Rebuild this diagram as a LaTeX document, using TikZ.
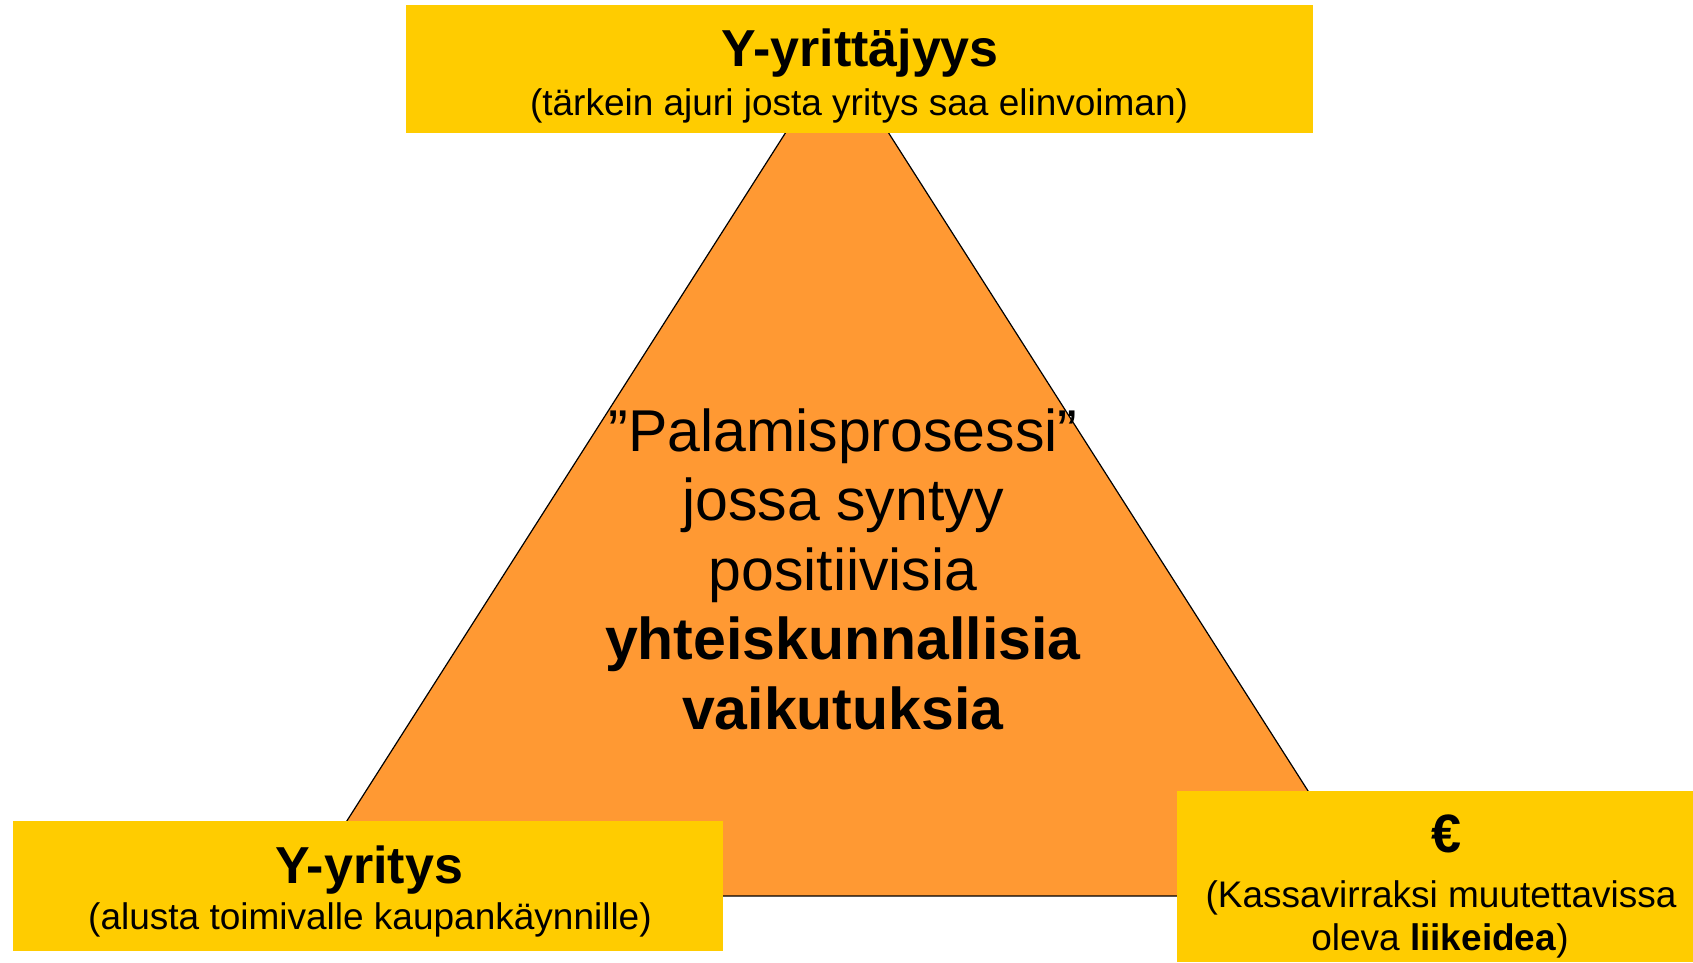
\documentclass[tikz,border=0pt]{standalone}
\usepackage{fontspec}
\setmainfont{Liberation Sans}
\usetikzlibrary{positioning}
\definecolor{boxyellow}{HTML}{FFCC00}
\definecolor{fireorange}{HTML}{FF9933}
\tikzset{
  ybox/.style={fill=boxyellow, inner sep=0pt, outer sep=0pt},
  ttl/.style={font=\fontsize{52}{62}\selectfont\bfseries, anchor=base, inner sep=0pt},
  sub/.style={font=\fontsize{37}{44}\selectfont, anchor=base, inner sep=0pt},
  tri/.style={fill=fireorange, draw=black, line width=1.2pt},
  core/.style={font=\fontsize{59}{69.5}\selectfont, align=center, inner sep=0pt}}

\begin{document}
\begin{tikzpicture}[x=1pt,y=-1pt]
  \useasboundingbox (0,0) rectangle (1693,962);
  % the burning triangle
  \coordinate (apex) at (837,52);
  \coordinate (bl) at (299,896);
  \coordinate (br) at (1375,896);
  \draw[tri] (apex) -- (bl) -- (br) -- cycle;
  \node[core] (proc) at (843,569) {”Palamisprosessi”\\jossa syntyy\\positiivisia\\\textbf{yhteiskunnallisia}\\\textbf{vaikutuksia}};
  % corner boxes
  \node[ybox, minimum width=907pt, minimum height=128pt] (topbox) at (859.5,69) {};
  \node[ttl] (toptitle) at (860,66) {Y-yrittäjyys};
  \node[sub] (topsub) at (859,115) {(tärkein ajuri josta yritys saa elinvoiman)};
  \node[ybox, minimum width=710pt, minimum height=130pt] (leftbox) at (368,886) {};
  \node[ttl] (lefttitle) at (369,883) {Y-yritys};
  \node[sub] (leftsub) at (370,929) {(alusta toimivalle kaupankäynnille)};
  \node[ybox, minimum width=516pt, minimum height=171pt] (rightbox) at (1435,876.5) {};
  \node[ttl, font=\fontsize{54}{62}\selectfont\bfseries] (euro) at (1446,852) {€};
  \node[sub] (rightsub) at (1441,907) {(Kassavirraksi muutettavissa};
  \node[sub] (rightsub2) at (1440,950) {oleva \textbf{liikeidea})};
\end{tikzpicture}
\end{document}
